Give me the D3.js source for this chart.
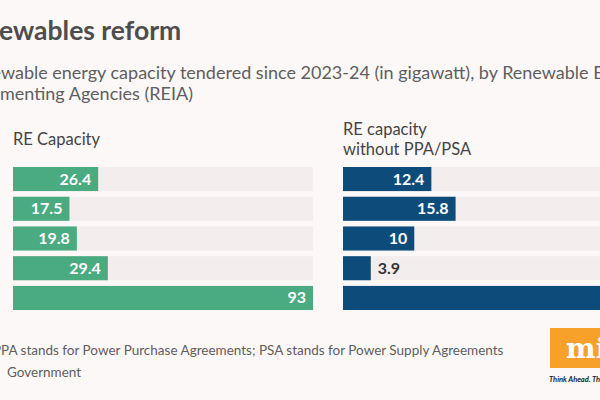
<!DOCTYPE html>
<html>
<head>
<meta charset="utf-8">
<script src="https://cdn.jsdelivr.net/npm/d3@7"></script>
<style>
    body { margin: 0; background: #fdf8f8; }
    svg { display: block; font-family: Lato, sans-serif; }
</style>
</head>
<body>
<svg id="chart" width="600" height="400"></svg>
<script>

// agencies (labels sit left of the visible crop)
var agencies = ["SECI", "NTPC", "NHPC", "SJVN", "Total"];
var reCapacity = [26.4, 17.5, 19.8, 29.4, 93];
var reWithoutPpa = [12.4, 15.8, 10, 3.9, 42.1];

var panelTitles = [["RE Capacity"], ["RE capacity", "without PPA/PSA"]];

var title = "Renewables reform";
var subtitle = ["Renewable energy capacity tendered since 2023-24 (in gigawatt), by Renewable Energy",
    "Implementing Agencies (REIA)"];
var note = "Note: PPA stands for Power Purchase Agreements; PSA stands for Power Supply Agreements";
var source = ["Source:", "Government"];

var svg = d3.select("#chart");

var colors = {
    "green": "#4aaa80", "navy": "#0d4b7a", "track": "#f3eded",
    "title": "#4d4d4d", "text": "#5e5e5e", "dark": "#333333"
};

// measure a prefix so the crop falls at the same letter as in the original
function prefixWidth(str, size, weight) {
    var t = svg.append("text")
        .attr("font-size", size)
        .attr("font-weight", weight)
        .text(str);
    var w = t.node().getComputedTextLength();
    t.remove();
    return w;
}

svg.append("text")
    .attr("x", -prefixWidth("Ren", 26.5, 700) - 1)
    .attr("y", 40)
    .attr("font-size", 26.5)
    .attr("font-weight", 700)
    .attr("fill", colors.title)
    .text(title);

var subX = [-prefixWidth("Rene", 18, 400) + 1, -prefixWidth("Imple", 18, 400)];
subtitle.forEach(function (line, i) {
    svg.append("text")
        .attr("x", subX[i])
        .attr("y", 79 + i * 21)
        .attr("font-size", 18)
        .attr("fill", colors.text)
        .text(line);
});

// panels
var panels = [
    {"values": reCapacity, "x0": 13, "color": colors.green, "titles": panelTitles[0], "titleY": 145},
    {"values": reWithoutPpa, "x0": 343, "color": colors.navy, "titles": panelTitles[1], "titleY": 135}
];

var panelWidth = 300;

var y = d3.scaleBand()
    .domain(agencies)
    .range([167, 310])
    .paddingInner(0.19)
    .paddingOuter(0);

// category labels (cropped off in the reference)
svg.append("g").selectAll("text")
    .data(agencies)
    .enter()
    .append("text")
    .attr("x", -4)
    .attr("y", function (d) { return y(d) + y.bandwidth() / 2 + 5; })
    .attr("text-anchor", "end")
    .attr("font-size", 15)
    .attr("fill", colors.text)
    .text(function (d) { return d; });

panels.forEach(function (p) {

    var x = d3.scaleLinear()
        .domain([0, d3.max(p.values)])
        .range([p.x0, p.x0 + panelWidth]);

    var g = svg.append("g");

    p.titles.forEach(function (t, i) {
        g.append("text")
            .attr("x", p.x0)
            .attr("y", p.titleY + i * 20)
            .attr("font-size", 16.5)
            .attr("fill", "#444")
            .text(t);
    });

    var rows = g.selectAll("g.row")
        .data(agencies)
        .enter()
        .append("g")
        .attr("class", "row");

    rows.append("rect")
        .attr("x", x(0))
        .attr("y", function (d) { return y(d); })
        .attr("width", panelWidth)
        .attr("height", y.bandwidth())
        .attr("fill", colors.track);

    rows.append("rect")
        .attr("x", x(0))
        .attr("y", function (d) { return y(d); })
        .attr("width", function (d, i) { return x(p.values[i]) - x(0); })
        .attr("height", y.bandwidth())
        .attr("fill", p.color);

    rows.append("text")
        .attr("y", function (d) { return y(d) + y.bandwidth() / 2 + 5.5; })
        .attr("font-size", 16)
        .attr("font-weight", 700)
        .each(function (d, i) {
            var v = p.values[i];
            var inside = x(v) - x(0) > 40;
            d3.select(this)
                .attr("x", inside ? x(v) - 7 : x(v) + 7)
                .attr("text-anchor", inside ? "end" : "start")
                .attr("fill", inside ? "#ffffff" : colors.dark)
                .text(v);
        });
});

// footnotes
svg.append("text")
    .attr("x", -prefixWidth("Note: P", 13.5, 400) + 1)
    .attr("y", 355)
    .attr("font-size", 13.5)
    .attr("fill", colors.text)
    .text(note);

var src = svg.append("text")
    .attr("y", 376.5)
    .attr("font-size", 13.5)
    .attr("fill", colors.text);
src.append("tspan")
    .attr("x", -1)
    .attr("text-anchor", "end")
    .text(source[0]);
src.append("tspan")
    .attr("x", 7)
    .text(source[1]);

// logo
var logo = svg.append("g");
logo.append("rect")
    .attr("x", 550)
    .attr("y", 328)
    .attr("width", 90)
    .attr("height", 40)
    .attr("fill", "#f7a12b");
logo.append("text")
    .attr("x", 566)
    .attr("y", 358)
    .attr("font-family", "DejaVu Serif, serif")
    .attr("font-size", 28)
    .attr("font-weight", 700)
    .attr("fill", "#ffffff")
    .text("mint");
logo.append("text")
    .attr("x", 549)
    .attr("y", 382)
    .attr("font-size", 7.5)
    .attr("font-style", "italic")
    .attr("font-weight", 700)
    .attr("fill", "#222")
    .text("Think Ahead. Think Mint.");

</script>
</body>
</html>
